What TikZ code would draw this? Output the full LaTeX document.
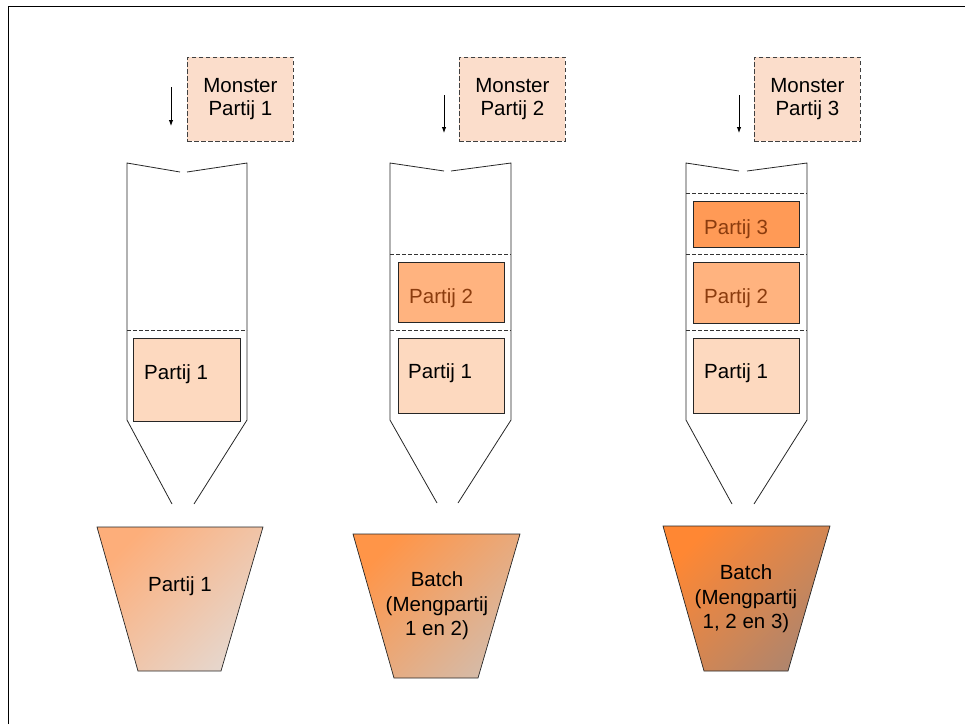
\documentclass[tikz,border=0pt]{standalone}
\usepackage{fontspec}
\setmainfont{Liberation Sans}
\usetikzlibrary{arrows.meta,calc}
\definecolor{monfill}{RGB}{251,221,203}
\definecolor{pone}{RGB}{253,217,191}
\definecolor{ptwo}{RGB}{255,179,127}
\definecolor{pthree}{RGB}{255,154,86}
\definecolor{brownt}{RGB}{139,60,14}
\definecolor{baoneA}{RGB}{253,174,122}
\definecolor{baoneB}{RGB}{230,214,204}
\definecolor{batwoA}{RGB}{255,149,72}
\definecolor{batwoB}{RGB}{214,186,166}
\definecolor{bathreeA}{RGB}{255,135,51}
\definecolor{bathreeB}{RGB}{176,133,108}
\begin{document}
\begin{tikzpicture}[x=1pt,y=-1pt,
  silo/.style={draw=black!85, line width=0.8pt},
  level/.style={draw=black!80, line width=0.7pt, dash pattern=on 3.5pt off 2.5pt},
  monster/.style={draw=black!75, line width=0.8pt, dash pattern=on 4.5pt off 2.5pt, fill=monfill,
    minimum width=106pt, minimum height=84pt, inner sep=0pt, align=center,
    font=\fontsize{20.5}{23}\selectfont, anchor=north west},
  pbox/.style={draw=black!85, line width=0.8pt, inner sep=0pt, anchor=north west, minimum width=107pt},
  ptext/.style={anchor=base west, inner sep=0pt, font=\fontsize{20.5}{23}\selectfont},
  bucket/.style={draw=black!85, line width=0.7pt},
  btext/.style={align=center, inner sep=0pt, font=\fontsize{20.5}{24.5}\selectfont},
  feed/.style={draw=black, line width=0.9pt, -{Latex[length=6pt,width=4.5pt]}}]
\useasboundingbox (0,0) rectangle (965,724);
\draw[line width=1pt] (8,724) -- (8,6) -- (965,6);

% ---------- column 1 ----------
\node[monster] (m1) at (187,57) {Monster\\Partij 1};
\coordinate (a1s) at (171,87); \coordinate (a1e) at (171,126);
\draw[feed] (a1s) -- (a1e);
\draw[silo] (180,172) -- (127,163) -- (127,420) -- (172,504);
\draw[silo] (187,172) -- (247,163) -- (247,420) -- (194,504);
\draw[level] (127,330) -- (247,330);
\node[pbox, fill=pone, minimum width=107pt, minimum height=83pt] (s1p1) at (133,338) {};
\node[ptext] (t1p1) at (144,379) {Partij 1};
\shadedraw[bucket, top color=baoneA, bottom color=baoneB, shading angle=45]
  (97,527) -- (263,527) -- (221,671) -- (138,671) -- cycle;
\node[btext] (b1) at (180,586) {Partij 1};

% ---------- column 2 ----------
\node[monster] (m2) at (459,57) {Monster\\Partij 2};
\coordinate (a2s) at (444,95); \coordinate (a2e) at (444,133);
\draw[feed] (a2s) -- (a2e);
\draw[silo] (444,171) -- (390,163) -- (390,420) -- (437,503);
\draw[silo] (451,171) -- (511,163) -- (511,420) -- (458,503);
\draw[level] (390,254) -- (511,254);
\draw[level] (390,330) -- (511,330);
\node[pbox, fill=ptwo, minimum width=106pt, minimum height=60pt] (s2p2) at (398,262) {};
\node[ptext, text=brownt] (t2p2) at (409,303) {Partij 2};
\node[pbox, fill=pone, minimum width=106pt, minimum height=75pt] (s2p1) at (398,338) {};
\node[ptext] (t2p1) at (408,378) {Partij 1};
\shadedraw[bucket, top color=batwoA, bottom color=batwoB, shading angle=45]
  (353,534) -- (520,534) -- (478,678) -- (394,678) -- cycle;
\node[btext] (b2) at (437,606) {Batch\\(Mengpartij\\1 en 2)};

% ---------- column 3 ----------
\node[monster] (m3) at (754,57) {Monster\\Partij 3};
\coordinate (a3s) at (739,95); \coordinate (a3e) at (739,133);
\draw[feed] (a3s) -- (a3e);
\draw[silo] (739,171) -- (686,163) -- (686,420) -- (732,504);
\draw[silo] (747,171) -- (807,163) -- (807,420) -- (754,504);
\draw[level] (686,193) -- (807,193);
\draw[level] (686,254) -- (807,254);
\draw[level] (686,330) -- (807,330);
\node[pbox, fill=pthree, minimum width=106pt, minimum height=46pt] (s3p3) at (693,201) {};
\node[ptext, text=brownt] (t3p3) at (704,234) {Partij 3};
\node[pbox, fill=ptwo, minimum width=106pt, minimum height=61pt] (s3p2) at (693,262) {};
\node[ptext, text=brownt] (t3p2) at (704,303) {Partij 2};
\node[pbox, fill=pone, minimum width=106pt, minimum height=75pt] (s3p1) at (693,338) {};
\node[ptext] (t3p1) at (704,378) {Partij 1};
\shadedraw[bucket, top color=bathreeA, bottom color=bathreeB, shading angle=45]
  (663,526) -- (830,526) -- (788,671) -- (704,671) -- cycle;
\node[btext] (b3) at (746,599) {Batch\\(Mengpartij\\1, 2 en 3)};
\end{tikzpicture}
\end{document}
